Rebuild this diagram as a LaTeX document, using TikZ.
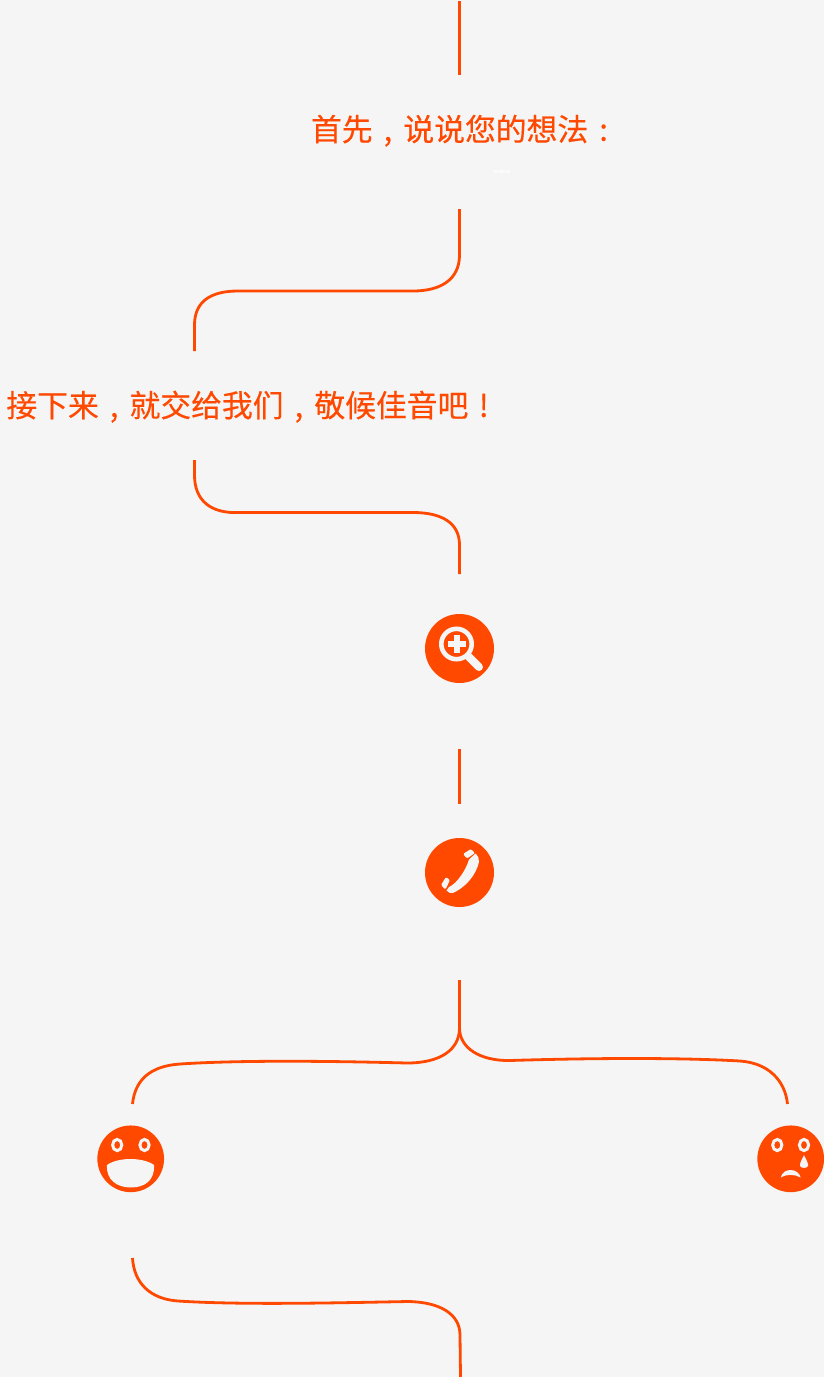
\documentclass[tikz,border=0pt]{standalone}
\usepackage{fontspec}
\newfontfamily\cjk[FakeBold=0.35]{Noto Sans CJK SC}
\newcommand{\pc}[1]{\makebox[1em][c]{#1}}
\definecolor{bgc}{HTML}{F5F5F5}
\definecolor{org}{HTML}{FF4800}
\definecolor{dotc}{HTML}{FBFBFB}
\tikzset{
  x=1pt,y=-1pt,
  conn/.style={draw=org,line width=2.8pt},
  disc/.style={circle,fill=org,draw=none,inner sep=0pt,minimum size=69pt},
  smile/.style={circle,fill=org,draw=none,inner sep=0pt,minimum size=66.7pt},
  title/.style={text=org,font=\cjk\fontsize{30.8}{34}\selectfont,inner sep=0pt,anchor=center},
  eye/.style={draw=bgc,line width=3pt,fill=org},
  wf/.style={fill=bgc,draw=none},
}
\begin{document}
\begin{tikzpicture}
\path[use as bounding box,fill=bgc] (0,0) rectangle (824,1377);
% free ends
\coordinate (a1) at (459.5,1);
\coordinate (a2) at (459.5,75);
\coordinate (b1) at (459.5,209);
\coordinate (b2) at (194.5,351);
\coordinate (c1) at (194.5,460);
\coordinate (c2) at (459.5,574);
\coordinate (d1) at (459.5,749);
\coordinate (d2) at (459.5,804);
\coordinate (e1) at (459.5,980);
\coordinate (e2) at (132.5,1104);
\coordinate (e3) at (787.5,1104);
\coordinate (f1) at (132.5,1258);
\coordinate (f2) at (460.5,1377);
% texts
\node[title] (t1) at (465,130.7) {首先\pc{,}说说您的想法\pc{:}};
\node[title] (t2) at (252.8,406.7) {接下来\pc{,}就交给我们\pc{,}敬候佳音吧\pc{!}};
% tiny dots
\foreach \px in {496,500.5,503.5,508}{\fill[dotc] (\px-1.6,169.6) rectangle (\px+1.6,172.8);}
% connectors
\draw[conn] (a1) -- (a2);
\draw[conn] (b1) -- (459.5,255) .. controls (459.5,280) and (440,291) .. (413,291) -- (238,291) .. controls (210,291) and (194.5,302) .. (194.5,325) -- (b2);
\draw[conn] (c1) -- (194.5,475) .. controls (194.5,500) and (210,514) .. (240,512.5) -- (413,512.5) .. controls (442,512.5) and (459.5,523) .. (459.5,545) -- (c2);
\draw[conn] (d1) -- (d2);
\draw[conn] (e1) -- (459.5,1028) .. controls (459.5,1050) and (440,1063) .. (407,1063) .. controls (330,1061) and (240,1060) .. (180,1064) .. controls (150,1066) and (135,1080) .. (e2);
\draw[conn] (459.5,1028) .. controls (459.5,1048) and (480,1061) .. (510,1060.5) .. controls (590,1058) and (680,1057.5) .. (740,1061) .. controls (768,1063) and (785,1080) .. (e3);
\draw[conn] (f1) .. controls (134,1283) and (150,1299) .. (178,1301) .. controls (240,1305) and (330,1303) .. (408,1301.5) .. controls (440,1302) and (460,1314) .. (460,1335) -- (f2);
% magnifier
\node[disc] (n1) at (459.5,648.5) {};
\draw[bgc,line width=4.6pt] (456.5,644) circle (15.2);
\draw[bgc,line width=8pt,line cap=round] (468.5,656.5) -- (479,667);
\fill[bgc] (447.7,640.8) rectangle (465.7,647.2);
\fill[bgc] (453.5,634.5) rectangle (459.9,652.5);
% phone
\node[disc] (n2) at (459.5,872.5) {};
\fill[bgc,rounded corners=1.2pt] (463,854) -- (471,849) -- (475,853) -- (467,858.5) -- cycle;
\fill[bgc] (475.5,853.5) .. controls (478,856) and (479.5,859) .. (479,862) .. controls (476,875) and (466,887) .. (453,893) .. controls (451,893.5) and (448.5,893) .. (446.5,890.5) -- (449,887) .. controls (457,883.5) and (466,870) .. (469,859.5) -- cycle;
\fill[bgc,rounded corners=1.2pt] (441,885) -- (446,877) -- (450,880) -- (445.5,889.5) -- cycle;
% happy
\node[smile] (n3) at (130.7,1158.8) {};
\draw[eye] (117.2,1145) ellipse (4.6 and 5.6);
\draw[eye] (144.5,1145) ellipse (4.6 and 5.6);
\fill[wf] (107,1165) .. controls (118,1157) and (143,1157) .. (154,1165) .. controls (155,1180) and (145,1187.5) .. (131,1187.5) .. controls (117,1187.5) and (106,1180) .. (107,1165) -- cycle;
% sad
\node[smile] (n4) at (790.7,1158.8) {};
\draw[eye] (777.3,1145) ellipse (4.6 and 5.6);
\draw[eye] (804,1145) ellipse (4.6 and 5.6);
\fill[wf] (804,1155) .. controls (807,1161) and (808.5,1164) .. (808,1166) .. controls (807,1168.5) and (801,1168.5) .. (800,1166) .. controls (799.5,1164) and (801,1161) .. (804,1155) -- cycle;
\fill[wf] (780.7,1177.5) .. controls (783,1167.5) and (798,1167.5) .. (800.7,1177.5) .. controls (795,1174) and (786,1174) .. (780.7,1177.5) -- cycle;
\end{tikzpicture}
\end{document}
